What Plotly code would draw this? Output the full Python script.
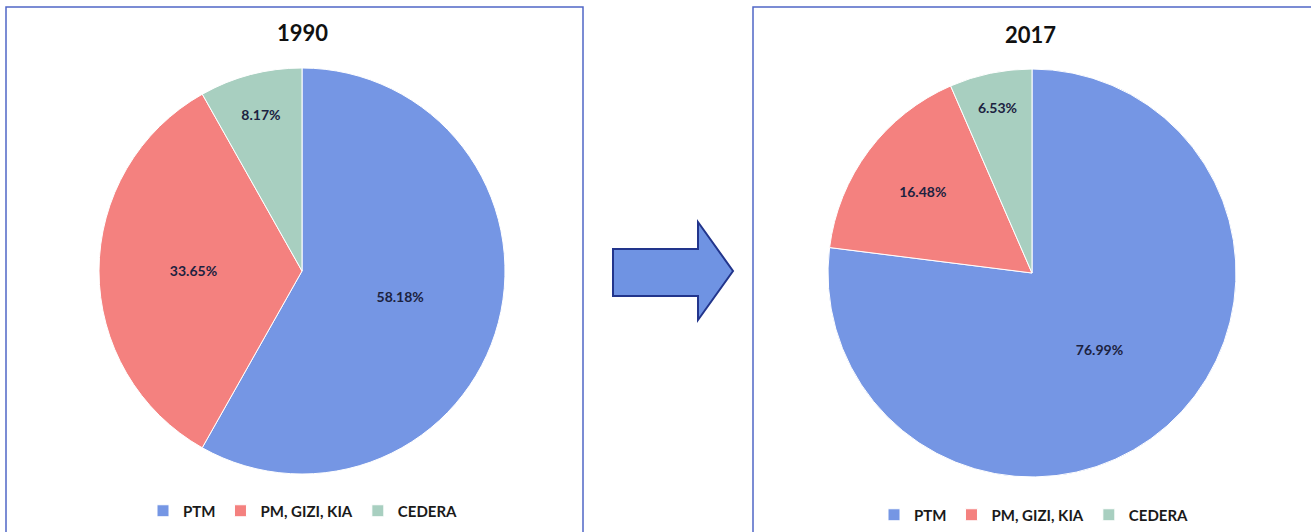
import plotly.graph_objects as go

categories = ["PTM", "PM, GIZI, KIA", "CEDERA"]
values_1990 = [58.18, 33.65, 8.17]
values_2017 = [76.99, 16.48, 6.53]
years = ["1990", "2017"]

colors = ["#7596e4", "#f4817f", "#a8cfc0"]
W, H = 1311, 532
FONT = "Lato"

def px_x(v):
    return v / W

def px_y(v):
    return 1 - v / H

# second pie needs distinct label keys so that it gets its own legend entries
categories_2017 = [c + "\u200b" for c in categories]

fig = go.Figure()

fig.add_trace(go.Pie(
    labels=categories, values=values_1990, sort=False, direction="clockwise",
    rotation=0, marker=dict(colors=colors, line=dict(color="white", width=1)),
    texttemplate="%{value:.2f}%", textposition="inside", insidetextorientation="horizontal",
    textfont=dict(family=FONT, size=14, color="#1c2240", weight="bold"),
    domain=dict(x=[px_x(97), px_x(507)], y=[px_y(474), px_y(68)]),
    hoverinfo="label+value", legend="legend", showlegend=True,
))
fig.add_trace(go.Pie(
    labels=categories_2017, values=values_2017, sort=False, direction="clockwise",
    rotation=0, marker=dict(colors=colors, line=dict(color="white", width=1)),
    texttemplate="%{value:.2f}%", textposition="inside", insidetextorientation="horizontal",
    textfont=dict(family=FONT, size=14, color="#1c2240", weight="bold"),
    domain=dict(x=[px_x(828), px_x(1236)], y=[px_y(477), px_y(69)]),
    hoverinfo="label+value", legend="legend2", showlegend=True,
))

shapes = [
    dict(type="rect", xref="paper", yref="paper", x0=px_x(6), x1=px_x(583), y0=-0.05, y1=px_y(7),
         line=dict(color="#5067c6", width=1.5), fillcolor="rgba(0,0,0,0)", layer="below"),
    dict(type="rect", xref="paper", yref="paper", x0=px_x(753), x1=1.05, y0=-0.05, y1=px_y(7),
         line=dict(color="#5067c6", width=1.5), fillcolor="rgba(0,0,0,0)", layer="below"),
]
# arrow (decorative) in pixel-based paper coordinates
pts = [(613, 249), (698, 249), (698, 222), (733, 271), (698, 320), (698, 296), (613, 296)]
path = "M " + " L ".join(f"{px_x(x):.5f},{px_y(y):.5f}" for x, y in pts) + " Z"
shapes.append(dict(type="path", xref="paper", yref="paper", path=path,
                   fillcolor="#6f93e3", line=dict(color="#22358c", width=2)))

annotations = [
    dict(text=f"<b>{years[0]}</b>", x=px_x(302), y=px_y(33), xref="paper", yref="paper",
         showarrow=False, font=dict(family=FONT, size=22, color="#111111"), xanchor="center", yanchor="middle"),
    dict(text=f"<b>{years[1]}</b>", x=px_x(1030), y=px_y(35), xref="paper", yref="paper",
         showarrow=False, font=dict(family=FONT, size=22, color="#111111"), xanchor="center", yanchor="middle"),
]

legend_common = dict(orientation="h", xanchor="center", yanchor="middle",
                     font=dict(family=FONT, size=15, color="#1a1a1a", weight="bold"),
                     bgcolor="rgba(0,0,0,0)", itemwidth=30, traceorder="normal")

fig.update_layout(
    width=W, height=H,
    margin=dict(l=0, r=0, t=0, b=0),
    paper_bgcolor="white", plot_bgcolor="white",
    shapes=shapes, annotations=annotations,
    legend=dict(x=px_x(303), y=px_y(511), **legend_common),
    legend2=dict(x=px_x(1034), y=px_y(515), **legend_common),
)

fig.write_html("out.html")
